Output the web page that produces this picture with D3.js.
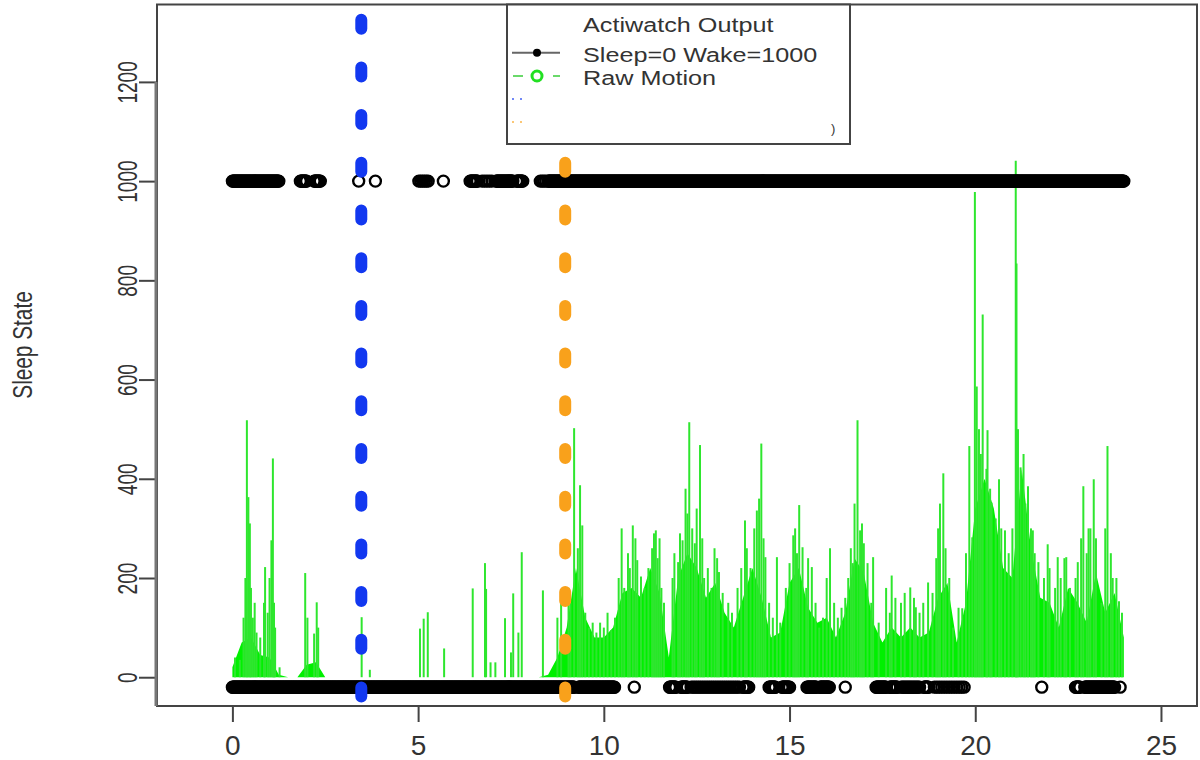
<!DOCTYPE html>
<html>
<head>
<meta charset="utf-8">
<style>
  body { margin: 0; background: #fff; }
  svg { display: block; font-family: "Liberation Sans", Arial, sans-serif; }
</style>
<script src="https://cdn.jsdelivr.net/npm/d3@7"></script>
</head>
<body>
<script>
// ---- data ----
const xTicks = [0, 5, 10, 15, 20, 25];
const yTicks = [0, 200, 400, 600, 800, 1000, 1200];
const wakeLevel = 1000;
const sleepLevel = -20;

// runs of epochs: [start hour, end hour, minutes between points]
const wakeRuns = [
  [0.00, 1.25, 1], [1.83, 2.00, 1], [2.20, 2.37, 1], [3.40, 3.40, 1],
  [3.85, 3.85, 1], [5.02, 5.27, 3], [5.68, 5.68, 1], [6.40, 6.60, 1],
  [6.72, 7.05, 4], [7.10, 7.55, 1], [7.65, 7.83, 1], [8.29, 8.45, 3],
  [8.50, 24.00, 1]
];
const sleepRuns = [
  [0.00, 9.20, 1], [9.32, 10.30, 1], [10.82, 10.82, 1], [11.77, 11.95, 1],
  [12.08, 12.25, 1], [12.35, 13.65, 3], [13.75, 13.90, 1], [14.45, 14.62, 1],
  [14.80, 15.00, 1], [15.47, 15.72, 1], [15.82, 16.08, 1], [16.50, 16.50, 1],
  [17.33, 17.60, 1], [17.70, 17.90, 1], [18.00, 18.50, 2], [18.62, 18.75, 1],
  [18.90, 19.70, 4], [21.79, 21.79, 1], [22.70, 22.82, 1], [22.95, 23.75, 1],
  [23.90, 23.90, 1]
];

// raw motion: dense level every 0.25 h, plus single spikes
const motionStep = 0.25;
const motionBase = [
  20, 70, 80, 45, 40, 5, 0, 0, 25, 30, 0, 0, 0, 0, 0, 0, 0, 0, 0, 0,
  0, 0, 0, 0, 0, 0, 0, 0, 0, 0, 0, 0, 0, 0, 5, 40, 100, 220, 120, 80,
  80, 100, 170, 180, 160, 220, 170, 40, 200, 250, 220, 160, 190, 130, 100, 160, 220, 160, 80, 90,
  190, 220, 140, 110, 120, 80, 130, 240, 210, 110, 70, 100, 80, 100, 80, 90, 160, 190, 70, 150,
  340, 400, 340, 220, 200, 420, 260, 160, 150, 100, 180, 150, 110, 210, 130, 170, 80
];
const motionSpikes = [
  [0.07, 40], [0.20, 35], [0.30, 120], [0.35, 200], [0.39, 518], [0.43, 363], [0.47, 310],
  [0.50, 180], [0.55, 120], [0.60, 150], [0.65, 90], [0.75, 80], [0.85, 150], [0.88, 222],
  [0.95, 130], [1.00, 200], [1.05, 276], [1.09, 441], [1.12, 150], [1.15, 100], [1.27, 20],
  [1.96, 210], [2.02, 120], [2.20, 88], [2.27, 151], [2.31, 100], [3.48, 121], [3.70, 15],
  [5.05, 98], [5.15, 118], [5.26, 131], [5.70, 58], [6.47, 179], [6.80, 230], [6.83, 178],
  [6.95, 30], [7.08, 30], [7.34, 119], [7.50, 50], [7.56, 169], [7.70, 90], [7.79, 252],
  [8.36, 175], [8.75, 120], [8.85, 150],
  [9.05, 180], [9.10, 150], [9.20, 502], [9.30, 260], [9.36, 387], [9.42, 306], [9.50, 130],
  [9.60, 100], [9.70, 110], [9.80, 90], [9.90, 110], [10.00, 100], [10.10, 130], [10.20, 95],
  [10.30, 120], [10.40, 200], [10.48, 300], [10.55, 180], [10.65, 250], [10.70, 220],
  [10.78, 306], [10.85, 280], [10.90, 236], [11.00, 203], [11.10, 180], [11.20, 220],
  [11.30, 260], [11.35, 290], [11.40, 296], [11.45, 240], [11.50, 280], [11.55, 180],
  [11.62, 150], [11.85, 200], [11.90, 250], [12.00, 232], [12.05, 290], [12.12, 276],
  [12.20, 380], [12.25, 330], [12.30, 514], [12.38, 300], [12.45, 270], [12.50, 340],
  [12.59, 468], [12.65, 280], [12.70, 200], [12.80, 220], [12.90, 180], [12.98, 260],
  [13.05, 240], [13.10, 212], [13.20, 170], [13.35, 150], [13.45, 130], [13.60, 180],
  [13.70, 220], [13.80, 316], [13.85, 260], [13.95, 220], [14.05, 300], [14.12, 336],
  [14.18, 360], [14.24, 471], [14.30, 280], [14.35, 242], [14.45, 150], [14.55, 120],
  [14.66, 242], [14.75, 110], [14.90, 180], [15.00, 230], [15.10, 286], [15.15, 300],
  [15.20, 250], [15.26, 347], [15.35, 262], [15.45, 180], [15.50, 240], [15.60, 222],
  [15.70, 150], [15.80, 100], [15.90, 120], [16.00, 200], [16.09, 260], [16.20, 150],
  [16.30, 120], [16.40, 140], [16.50, 160], [16.58, 200], [16.65, 260], [16.70, 230],
  [16.75, 350], [16.83, 518], [16.90, 296], [16.95, 310], [17.00, 270], [17.10, 230],
  [17.20, 150], [17.25, 242], [17.40, 110], [17.60, 180], [17.70, 130], [17.75, 205],
  [17.85, 160], [18.00, 150], [18.10, 170], [18.25, 181], [18.35, 160], [18.40, 141],
  [18.50, 130], [18.60, 150], [18.73, 191], [18.85, 170], [18.95, 240], [19.00, 300],
  [19.05, 350], [19.14, 411], [19.20, 260], [19.30, 200], [19.40, 100], [19.55, 140],
  [19.65, 139], [19.75, 250], [19.84, 466], [19.92, 282], [19.99, 978], [20.04, 586],
  [20.10, 500], [20.15, 450], [20.20, 731], [20.30, 420], [20.33, 498], [20.40, 380],
  [20.44, 352], [20.55, 320], [20.64, 399], [20.70, 300], [20.80, 296], [20.90, 250],
  [21.00, 300], [21.09, 1041], [21.11, 834], [21.15, 500], [21.22, 423], [21.30, 450],
  [21.35, 350], [21.42, 385], [21.50, 300], [21.55, 296], [21.60, 250], [21.70, 232],
  [21.85, 200], [21.95, 268], [22.00, 220], [22.15, 180], [22.22, 242], [22.30, 200],
  [22.40, 240], [22.45, 242], [22.55, 180], [22.70, 200], [22.76, 232], [22.85, 280],
  [22.91, 385], [23.00, 250], [23.05, 300], [23.10, 300], [23.19, 399], [23.25, 280],
  [23.40, 150], [23.50, 300], [23.56, 466], [23.65, 250], [23.70, 200], [23.80, 200],
  [23.87, 153], [23.95, 130]
];

const markerHours = [3.47, 8.96];
const markerTops = [1356, 1050];
const markerColors = ['#1238f0', '#f9a11b'];

const legendTitle = 'Actiwatch Output';
const legendLabels = ['Sleep=0 Wake=1000', 'Raw Motion'];
const yTitle = 'Sleep State';

// ---- layout ----
const width = 1200, height = 760;
const plotLeft = 157, plotRight = 1197, plotTop = 4.5, plotBottom = 706;

const svg = d3.select('body').append('svg')
  .attr('width', width)
  .attr('height', height);

const x = d3.scaleLinear().domain([-2.03, 25.97]).range([plotLeft, plotRight]);
const y = d3.scaleLinear().domain([-58, 1356]).range([plotBottom, plotTop]);

svg.append('clipPath').attr('id', 'plot')
  .append('rect')
  .attr('x', plotLeft).attr('y', plotTop)
  .attr('width', plotRight - plotLeft).attr('height', plotBottom - plotTop);

const plot = svg.append('g').attr('clip-path', 'url(#plot)');

// raw motion
const area = d3.area()
  .x((d, i) => x(i * motionStep))
  .y0(y(0))
  .y1(d => y(d));

plot.append('path')
  .datum(motionBase)
  .attr('d', area)
  .attr('fill', '#00f000');

plot.selectAll('line.spike')
  .data(motionSpikes)
  .enter().append('line')
  .attr('class', 'spike')
  .attr('x1', d => x(d[0])).attr('x2', d => x(d[0]))
  .attr('y1', y(0)).attr('y2', d => y(d[1]))
  .attr('stroke', '#2ee62e')
  .attr('stroke-width', 2);

// sleep / wake points
function expand(runs, level) {
  const pts = [];
  runs.forEach(r => {
    const step = r[2] / 60;
    for (let t = r[0]; t <= r[1] + 1e-9; t += step) pts.push([t, level]);
  });
  return pts;
}
const states = expand(wakeRuns, wakeLevel).concat(expand(sleepRuns, sleepLevel));

plot.selectAll('circle.state')
  .data(states)
  .enter().append('circle')
  .attr('class', 'state')
  .attr('cx', d => x(d[0]))
  .attr('cy', d => y(d[1]))
  .attr('r', 5.5)
  .attr('fill', 'none')
  .attr('stroke', '#000')
  .attr('stroke-width', 2.4);

// dotted vertical markers, same dash phase for both
const dashOn = 9, dashPeriod = 47.7, firstDash = 19.7;
markerHours.forEach((h, i) => {
  const y1 = y(markerTops[i]);
  const s0 = ((firstDash - y1) % dashPeriod + dashPeriod) % dashPeriod;
  plot.append('line')
    .attr('x1', x(h)).attr('x2', x(h))
    .attr('y1', y1).attr('y2', plotBottom + 10)
    .attr('stroke', markerColors[i])
    .attr('stroke-width', 12)
    .attr('stroke-linecap', 'round')
    .attr('stroke-dasharray', dashOn + ' ' + (dashPeriod - dashOn))
    .attr('stroke-dashoffset', (dashPeriod - s0) % dashPeriod);
});

// box
svg.append('rect')
  .attr('x', plotLeft).attr('y', plotTop)
  .attr('width', plotRight - plotLeft).attr('height', plotBottom - plotTop)
  .attr('fill', 'none')
  .attr('stroke', '#444')
  .attr('stroke-width', 2);

// x axis
const xAxis = svg.append('g')
  .attr('transform', `translate(0,${plotBottom})`)
  .call(d3.axisBottom(x).tickValues(xTicks).tickSize(16).tickPadding(13));
xAxis.select('.domain').remove();
xAxis.selectAll('line').attr('stroke', '#444').attr('stroke-width', 2);
xAxis.selectAll('text')
  .attr('font-size', 28)
  .attr('font-family', '"Liberation Sans", Arial, sans-serif')
  .attr('fill', '#333');
svg.append('line')
  .attr('x1', x(xTicks[0])).attr('x2', x(xTicks[xTicks.length - 1]))
  .attr('y1', plotBottom).attr('y2', plotBottom)
  .attr('stroke', '#444').attr('stroke-width', 2);

// y axis
const yAxis = svg.append('g')
  .attr('transform', `translate(${plotLeft},0)`)
  .call(d3.axisLeft(y).tickValues(yTicks).tickSize(18).tickFormat(d3.format('d')));
yAxis.select('.domain').remove();
yAxis.selectAll('line').attr('stroke', '#444').attr('stroke-width', 2);
yAxis.selectAll('text')
  .attr('x', null).attr('dy', null)
  .attr('text-anchor', 'middle')
  .attr('transform', 'translate(-20,0) rotate(-90) scale(0.68,1)')
  .attr('font-size', 28)
  .attr('font-family', '"Liberation Sans", Arial, sans-serif')
  .attr('fill', '#333');
svg.append('line')
  .attr('x1', plotLeft - 1).attr('x2', plotLeft - 1)
  .attr('y1', y(yTicks[yTicks.length - 1])).attr('y2', plotBottom)
  .attr('stroke', '#777').attr('stroke-width', 3);

svg.append('text')
  .attr('transform', 'translate(32,345) rotate(-90) scale(0.77,1)')
  .attr('text-anchor', 'middle')
  .attr('font-size', 27)
  .attr('fill', '#333')
  .text(yTitle);

// legend
const lg = svg.append('g');
lg.append('rect')
  .attr('x', 507).attr('y', plotTop)
  .attr('width', 343).attr('height', 139.5)
  .attr('fill', '#fff')
  .attr('stroke', '#444')
  .attr('stroke-width', 2);

lg.append('text')
  .attr('transform', 'translate(583,31.5) scale(1.2,1)')
  .attr('font-size', 21).attr('fill', '#333')
  .text(legendTitle);

const rowY = [52.7, 76, 99, 122];
const labelY = [62, 85];
legendLabels.forEach((t, i) => {
  lg.append('text')
    .attr('transform', `translate(583,${labelY[i]}) scale(1.2,1)`)
    .attr('font-size', 21).attr('fill', '#333')
    .text(t);
});

lg.append('line')
  .attr('x1', 512).attr('x2', 560).attr('y1', rowY[0]).attr('y2', rowY[0])
  .attr('stroke', '#666').attr('stroke-width', 2);
lg.append('circle')
  .attr('cx', 537).attr('cy', rowY[0]).attr('r', 4).attr('fill', '#000');

lg.append('line')
  .attr('x1', 513).attr('x2', 560).attr('y1', rowY[1]).attr('y2', rowY[1])
  .attr('stroke', '#6ad96a').attr('stroke-width', 2)
  .attr('stroke-dasharray', '10 30');
lg.append('circle')
  .attr('cx', 537).attr('cy', rowY[1]).attr('r', 5)
  .attr('fill', 'none').attr('stroke', '#22e022').attr('stroke-width', 3);

markerColors.forEach((c, i) => {
  lg.append('line')
    .attr('x1', 512).attr('x2', 560).attr('y1', rowY[2 + i]).attr('y2', rowY[2 + i])
    .attr('stroke', c).attr('stroke-width', 2).attr('stroke-opacity', 0.6)
    .attr('stroke-dasharray', '2 6');
});

// blanked-out part of the legend
lg.append('rect')
  .attr('x', 527).attr('y', 92)
  .attr('width', 318).attr('height', 47)
  .attr('fill', '#fff');
lg.append('text')
  .attr('x', 831).attr('y', 133)
  .attr('font-size', 13).attr('fill', '#333')
  .text(')');
</script>
</body>
</html>
